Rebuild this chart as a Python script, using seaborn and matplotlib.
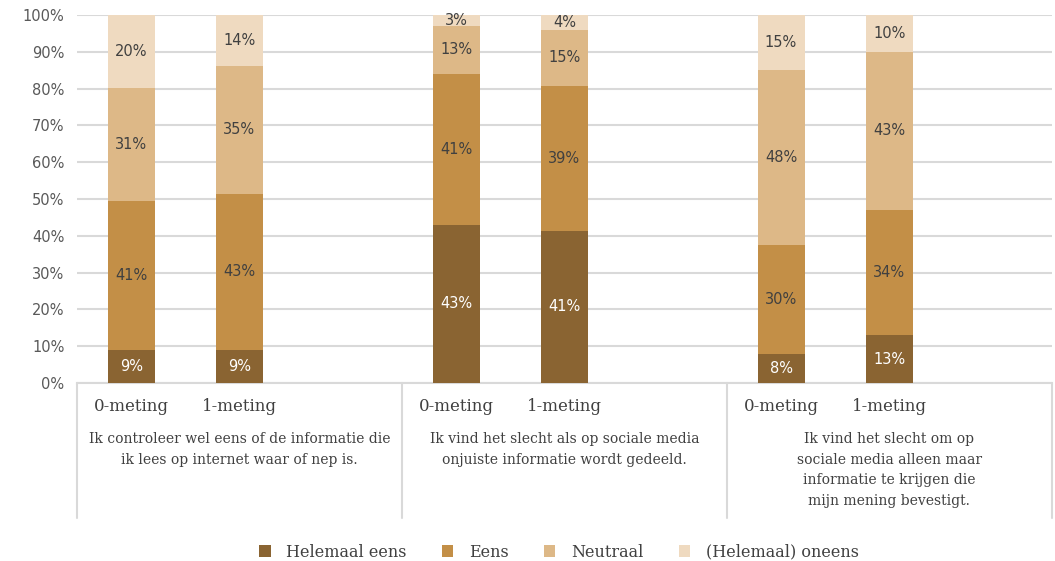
import matplotlib
matplotlib.use("Agg")
import matplotlib.pyplot as plt
from matplotlib.patches import Patch
from matplotlib.transforms import blended_transform_factory
import numpy as np
import pandas as pd
import seaborn as sns

# Survey statements (multi-line group labels) and measurement moments
statements = [
    "Ik controleer wel eens of de informatie die\nik lees op internet waar of nep is.",
    "Ik vind het slecht als op sociale media\nonjuiste informatie wordt gedeeld.",
    "Ik vind het slecht om op\nsociale media alleen maar\ninformatie te krijgen die\nmijn mening bevestigt.",
]
moments = ["0-meting", "1-meting"]

# Answer categories, bottom to top of each stack
answers = ["Helemaal eens", "Eens", "Neutraal", "(Helemaal) oneens"]
colors = ["#8A6432", "#C38F47", "#DDB887", "#EFDAC0"]

# Percentages per bar: statement 1 (0/1), statement 2 (0/1), statement 3 (0/1)
helemaal_eens = [9, 9, 43, 41, 8, 13]
eens = [41, 43, 41, 39, 30, 34]
neutraal = [31, 35, 13, 15, 48, 43]
oneens = [20, 14, 3, 4, 15, 10]

series = [helemaal_eens, eens, neutraal, oneens]

# Each statement occupies three slots; the third slot stays empty
positions = [0, 1, 3, 4, 6, 7]

# 100% stacked: each bar is scaled to its own (rounded) total
totals = [sum(s[i] for s in series) for i in range(len(positions))]
rows = []
for k, (name, vals) in enumerate(zip(answers, series)):
    for i, (pos, v) in enumerate(zip(positions, vals)):
        below = sum(series[j][i] for j in range(k))
        scale = 100.0 / totals[i]
        rows.append({"pos": pos, "answer": name, "value": v,
                     "bottom": below * scale, "top": (below + v) * scale})
df = pd.DataFrame(rows)

sns.set_style("white")
plt.rcParams["font.family"] = ["DejaVu Sans"]

fig = plt.figure(figsize=(10.55, 5.61), dpi=100)
ax = fig.add_axes([0.073, 0.3173, 0.924, 0.656])

# Stacked bars: draw cumulative totals from the tallest down
for name, col in reversed(list(zip(answers, colors))):
    sub = df[df["answer"] == name]
    sns.barplot(data=sub, x="pos", y="top", native_scale=True, width=0.434,
                color=col, saturation=1, linewidth=0, ax=ax, errorbar=None,
                zorder=3)

ax.set_xlim(-0.5, 8.5)
ax.set_ylim(0, 100)
ax.set_yticks(np.arange(0, 101, 10))
ax.set_yticklabels([f"{t}%" for t in range(0, 101, 10)])
ax.tick_params(axis="y", length=0, pad=9, labelsize=10.5, labelcolor="#595959")
ax.set_xticks([])
ax.set_xlabel("")
ax.set_ylabel("")
ax.grid(axis="y", color="#D9D9D9", linewidth=1.5, zorder=0)
ax.set_axisbelow(True)
for s in ["top", "right", "left"]:
    ax.spines[s].set_visible(False)
ax.spines["bottom"].set_color("#D9D9D9")
ax.spines["bottom"].set_linewidth(1.5)

# Segment value labels
for _, r in df.iterrows():
    mid = (r["bottom"] + r["top"]) / 2
    txtcol = "white" if r["answer"] == answers[0] else "#404040"
    ax.text(r["pos"], mid, f"{int(r['value'])}%", ha="center", va="center",
            fontsize=10.5, color=txtcol, zorder=5)

# Two-level category axis below the plot
trans = blended_transform_factory(ax.transData, ax.transAxes)
for xb in [-0.5, 2.5, 5.5, 8.5]:
    ax.plot([xb, xb], [0, -0.367], transform=trans, color="#D9D9D9",
            linewidth=1.5, clip_on=False)
for pos, lab in zip(positions, moments * 3):
    ax.text(pos, -0.063, lab, transform=trans, ha="center", va="center",
            fontsize=12, color="#404040", family="DejaVu Serif")
for g, st in enumerate(statements):
    ax.text(g * 3 + 1.0, -0.133, st, transform=trans, ha="center", va="top",
            fontsize=10, color="#404040", family="DejaVu Serif",
            linespacing=1.6)

handles = [Patch(facecolor=c, edgecolor="none", label=a)
           for a, c in zip(answers, colors)]
fig.legend(handles=handles, loc="center", bbox_to_anchor=(0.53, 0.016),
           ncol=4, frameon=False, handlelength=0.7, handleheight=0.7,
           columnspacing=2.2, handletextpad=1.0,
           prop={"family": "DejaVu Serif", "size": 11.5},
           labelcolor="#404040")

fig.savefig("out.png", dpi=100)
